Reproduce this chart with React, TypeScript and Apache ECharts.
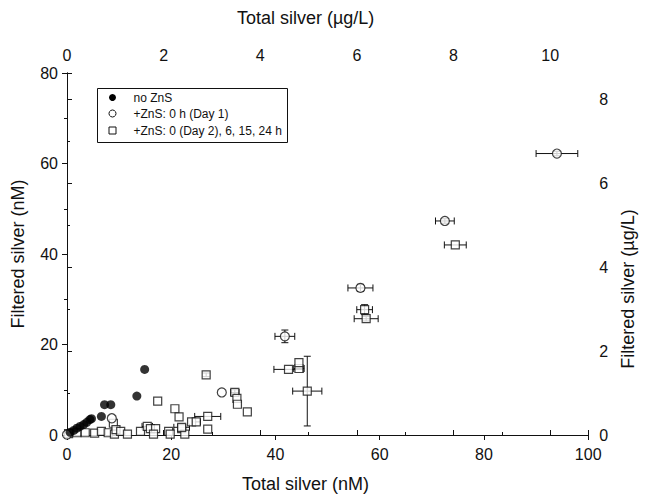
import React, { useEffect, useRef } from "react";
import * as echarts from "echarts";

// no ZnS (filled circles)
const noZnSX = [0.6, 1.3, 1.9, 2.5, 3.2, 3.8, 4.4, 4.7, 6.6, 7.2, 8.4, 13.4, 14.9];
const noZnSY = [0.6, 1.0, 1.5, 1.9, 2.3, 2.8, 3.4, 3.6, 4.1, 6.7, 6.7, 8.6, 14.5];

// +ZnS: 0 h (Day 1) (open circles)
const day1X = [0, 8.6, 29.7, 41.8, 56.3, 72.5, 94.0];
const day1Y = [0.1, 3.7, 9.4, 21.8, 32.5, 47.3, 62.2];
const day1XErr = [0, 0, 0, 1.9, 2.4, 1.8, 4.0];
const day1YErr = [0, 0, 0, 1.4, 0.8, 0.5, 0.5];

// +ZnS: 0 (Day 2), 6, 15, 24 h (open squares)
const laterX = [0.3, 1.9, 3.5, 5.3, 6.6, 7.9, 9.1, 8.9, 9.4, 10.3, 11.6, 14.1, 15.4, 16.0, 17.0, 16.6, 19.5, 19.8, 22.0, 22.6, 17.4, 20.7, 21.5, 26.7, 32.2, 32.6, 32.7, 34.6, 27.0, 23.9, 24.8, 22.0, 27.0, 42.5, 44.5, 44.5, 46.1, 57.1, 57.4, 74.5];
const laterY = [0.3, 0.5, 0.5, 0.4, 0.8, 0.5, 0.2, 2.6, 1.2, 0.8, 0.2, 0.8, 1.9, 1.4, 1.4, 0.2, 0.8, 0.2, 1.4, 0.2, 7.5, 5.8, 4.0, 13.3, 9.4, 8.1, 6.8, 5.1, 4.1, 2.9, 2.9, 1.7, 1.3, 14.5, 14.7, 16.0, 9.7, 27.7, 25.7, 42.0];
const laterXErr = [0, 0, 0, 0, 0, 0, 0, 0, 0, 0, 0, 0, 1.0, 0, 0, 0, 0, 0, 0, 0, 0, 0, 0, 0, 0.8, 0, 0, 0, 2.5, 0, 0.8, 1.5, 0, 2.8, 1.0, 0, 2.8, 1.5, 2.3, 2.1];
const laterYErr = [0, 0, 0, 0, 0, 0, 0, 0, 0, 0, 0, 0, 0, 0, 0, 0, 0, 0, 0, 0, 0, 0, 0, 0.4, 0.6, 0, 0, 0, 0, 0, 0, 0, 0, 0, 0, 0, 7.7, 1.1, 0.5, 0];

// axis ranges / ticks
const xTicksNM = [0, 20, 40, 60, 80, 100];
const yTicksNM = [0, 20, 40, 60, 80];
const topTicks = [0, 2, 4, 6, 8, 10];
const rightTicks = [0, 2, 4, 6, 8];
const NM_TO_UGL = 0.10787;

const legendLabels = ["no ZnS", "+ZnS: 0 h (Day 1)", "+ZnS: 0 (Day 2), 6, 15, 24 h"];

const FONT = "Liberation Sans, Arial, sans-serif";
const INK = "#111";

export default function App() {
  const ref = useRef<HTMLDivElement>(null);
  useEffect(() => {
    if (!ref.current) return;
    const chart = echarts.init(ref.current, null, { renderer: "svg" });
    const xMax = xTicksNM[xTicksNM.length - 1];
    const yMax = yTicksNM[yTicksNM.length - 1];
    const topMax = xMax * NM_TO_UGL;
    const rightMax = yMax * NM_TO_UGL;

    const errData = (xs: number[], ys: number[], xe: number[], ye: number[]) =>
      xs.map((x, i) => [x, ys[i], xe[i], ye[i]]).filter((d) => d[2] > 0 || d[3] > 0);
    const errorData = [
      ...errData(day1X, day1Y, day1XErr, day1YErr),
      ...errData(laterX, laterY, laterXErr, laterYErr),
    ];

    const axisLine = { show: true, lineStyle: { color: INK, width: 1 } };
    const axisTick = { show: true, inside: false, length: 5, lineStyle: { color: INK } };
    const minorTick = { show: true, splitNumber: 2, length: 3, lineStyle: { color: INK } };
    const label = (allowed: number[]) => ({
      color: INK,
      fontFamily: FONT,
      fontSize: 16,
      formatter: (v: number) => (allowed.some((a) => Math.abs(a - v) < 1e-6) ? String(v) : ""),
    });
    const nameStyle = { color: INK, fontFamily: FONT, fontSize: 18 };

    const option: any = {
      animation: false,
      backgroundColor: "#fff",
      grid: { left: 67, right: 50, top: 73, bottom: 61, containLabel: false },
      xAxis: [
        {
          type: "value", position: "bottom", min: 0, max: xMax, interval: 20,
          axisLine, axisTick, minorTick: { ...minorTick, show: false }, splitLine: { show: false },
          axisLabel: { ...label(xTicksNM), margin: 11 },
          name: "Total silver (nM)", nameLocation: "middle", nameGap: 40,
          nameTextStyle: { ...nameStyle, padding: [0, 44, 0, 0] },
        },
        {
          type: "value", position: "top", min: 0, max: topMax, interval: 2,
          axisLine, axisTick, minorTick, splitLine: { show: false },
          axisLabel: { ...label(topTicks), margin: 10, showMaxLabel: false },
          name: "Total silver (µg/L)", nameLocation: "middle", nameGap: 46,
          nameTextStyle: { ...nameStyle, padding: [0, 44, 0, 0] },
        },
      ],
      yAxis: [
        {
          type: "value", position: "left", min: 0, max: yMax, interval: 20,
          axisLine, axisTick, minorTick, splitLine: { show: false },
          axisLabel: { ...label(yTicksNM), margin: 9 },
          name: "Filtered silver (nM)", nameLocation: "middle", nameGap: 40, nameRotate: 90, nameTextStyle: nameStyle,
        },
        {
          type: "value", position: "right", min: 0, max: rightMax, interval: 2,
          axisLine, axisTick, minorTick, splitLine: { show: false },
          axisLabel: { ...label(rightTicks), margin: 11, showMaxLabel: false },
          name: "Filtered silver (µg/L)", nameLocation: "middle", nameGap: 26, nameRotate: 90,
          nameTextStyle: { ...nameStyle, padding: [0, 70, 0, 0] },
        },
      ],
      series: [
        {
          type: "custom", xAxisIndex: 0, yAxisIndex: 0, z: 1,
          encode: { x: 0, y: 1 },
          data: errorData,
          renderItem: (params: any, api: any) => {
            const x = api.value(0), y = api.value(1), xe = api.value(2), ye = api.value(3);
            const style = { stroke: INK, lineWidth: 1 };
            const cap = 3.5;
            const children: any[] = [];
            if (xe > 0) {
              const l = api.coord([x - xe, y]);
              const r = api.coord([x + xe, y]);
              children.push({ type: "line", shape: { x1: l[0], y1: l[1], x2: r[0], y2: r[1] }, style });
              children.push({ type: "line", shape: { x1: l[0], y1: l[1] - cap, x2: l[0], y2: l[1] + cap }, style });
              children.push({ type: "line", shape: { x1: r[0], y1: r[1] - cap, x2: r[0], y2: r[1] + cap }, style });
            }
            if (ye > 0) {
              const b = api.coord([x, y - ye]);
              const t = api.coord([x, y + ye]);
              children.push({ type: "line", shape: { x1: b[0], y1: b[1], x2: t[0], y2: t[1] }, style });
              children.push({ type: "line", shape: { x1: b[0] - cap, y1: b[1], x2: b[0] + cap, y2: b[1] }, style });
              children.push({ type: "line", shape: { x1: t[0] - cap, y1: t[1], x2: t[0] + cap, y2: t[1] }, style });
            }
            return { type: "group", children };
          },
        },
        {
          name: legendLabels[2], type: "scatter", xAxisIndex: 0, yAxisIndex: 0, z: 3,
          symbol: "rect", symbolSize: 8,
          itemStyle: { color: "#fff", borderColor: INK, borderWidth: 1.2 },
          data: laterX.map((x, i) => [x, laterY[i]]),
        },
        {
          name: legendLabels[1], type: "scatter", xAxisIndex: 0, yAxisIndex: 0, z: 4,
          symbol: "circle", symbolSize: 9,
          itemStyle: { color: "#fff", borderColor: INK, borderWidth: 1.2 },
          data: day1X.map((x, i) => [x, day1Y[i]]),
        },
        {
          name: legendLabels[0], type: "scatter", xAxisIndex: 0, yAxisIndex: 0, z: 5,
          symbol: "circle", symbolSize: 9,
          itemStyle: { color: "#000", borderColor: "#000", borderWidth: 0 },
          data: noZnSX.map((x, i) => [x, noZnSY[i]]),
        },
      ],
      graphic: [
        {
          type: "group", left: 97, top: 88, z: 10,
          children: [
            { type: "rect", shape: { x: 0, y: 0, width: 190, height: 54 }, style: { fill: "#fff", stroke: INK, lineWidth: 1 } },
            { type: "circle", shape: { cx: 15, cy: 9, r: 3.5 }, style: { fill: "#000" } },
            { type: "circle", shape: { cx: 15, cy: 25, r: 3.5 }, style: { fill: "#fff", stroke: INK, lineWidth: 1 } },
            { type: "rect", shape: { x: 11.5, y: 38.5, width: 7, height: 7 }, style: { fill: "#fff", stroke: INK, lineWidth: 1 } },
            { type: "text", x: 36, y: 9, style: { text: legendLabels[0], fill: INK, font: `12px ${FONT}`, verticalAlign: "middle" } },
            { type: "text", x: 36, y: 25, style: { text: legendLabels[1], fill: INK, font: `12px ${FONT}`, verticalAlign: "middle" } },
            { type: "text", x: 36, y: 42, style: { text: legendLabels[2], fill: INK, font: `12px ${FONT}`, verticalAlign: "middle" } },
          ],
        },
      ],
    };
    chart.setOption(option);
    return () => chart.dispose();
  }, []);
  return <div ref={ref} style={{ width: 645, height: 498, position: "absolute", left: 0, top: 0 }} />;
}
